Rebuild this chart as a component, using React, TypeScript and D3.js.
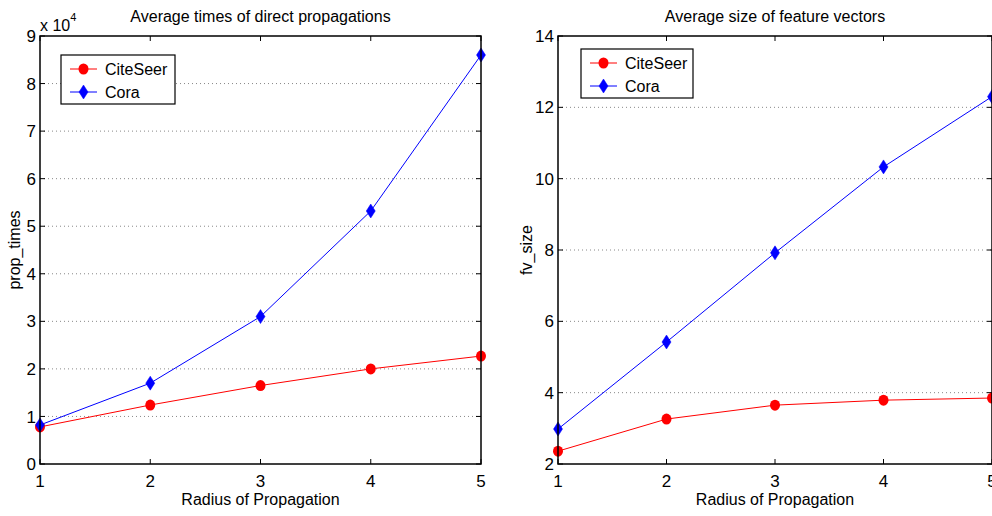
import React from "react";
import * as d3 from "d3";

const radii = [1, 2, 3, 4, 5];
const propCiteSeer = [0.78, 1.24, 1.65, 2.0, 2.27];
const propCora = [0.82, 1.7, 3.1, 5.32, 8.6];
const fvCiteSeer = [2.36, 3.26, 3.65, 3.79, 3.85];
const fvCora = [2.98, 5.42, 7.92, 10.33, 12.3];
const propTicks = [0, 1, 2, 3, 4, 5, 6, 7, 8, 9];
const fvTicks = [2, 4, 6, 8, 10, 12, 14];
const seriesNames = ["CiteSeer", "Cora"];
const seriesColors = ["#ff0000", "#0000ff"];

const FONT = "'Liberation Sans', Arial, Helvetica, sans-serif";

type PanelProps = {
  left: number;
  right: number;
  top: number;
  bottom: number;
  yDomain: [number, number];
  yTicks: number[];
  s1: number[];
  s2: number[];
  title: string;
  yLabel: string;
  yLabelX: number;
  legend: { x: number; y: number; w: number; h: number };
  exponent?: boolean;
};

function Diamond({ x, y, color }: { x: number; y: number; color: string }) {
  const w = 4.5, h = 7;
  return (
    <path
      d={`M${x},${y - h}L${x + w},${y}L${x},${y + h}L${x - w},${y}Z`}
      fill={color}
      stroke={color}
      strokeWidth={0.5}
    />
  );
}

function Panel(p: PanelProps) {
  const x = d3.scaleLinear().domain([1, 5]).range([p.left, p.right]);
  const y = d3.scaleLinear().domain(p.yDomain).range([p.bottom, p.top]);
  const line = d3
    .line<number>()
    .x((_, i) => x(radii[i]))
    .y((d) => y(d));
  const tl = 5;
  const cx = (p.left + p.right) / 2;
  return (
    <g fontFamily={FONT}>
      {p.yTicks.slice(1, -1).map((t) => (
        <line
          key={"g" + t}
          x1={p.left}
          x2={p.right}
          y1={y(t)}
          y2={y(t)}
          stroke="#888"
          strokeWidth={1}
          strokeDasharray="1,3"
        />
      ))}
      {p.yTicks.map((t) => (
        <g key={"yt" + t}>
          <line x1={p.left} x2={p.left + tl} y1={y(t)} y2={y(t)} stroke="#000" />
          <line x1={p.right} x2={p.right - tl} y1={y(t)} y2={y(t)} stroke="#000" />
          <text
            x={p.left - 4}
            y={y(t)}
            dy="0.36em"
            textAnchor="end"
            fontSize={17}
          >
            {t}
          </text>
        </g>
      ))}
      {radii.map((r) => (
        <g key={"xt" + r}>
          <line x1={x(r)} x2={x(r)} y1={p.bottom} y2={p.bottom - tl} stroke="#000" />
          <line x1={x(r)} x2={x(r)} y1={p.top} y2={p.top + tl} stroke="#000" />
          <text x={x(r)} y={p.bottom + 23} textAnchor="middle" fontSize={17}>
            {r}
          </text>
        </g>
      ))}
      <path d={line(p.s1) || ""} fill="none" stroke={seriesColors[0]} strokeWidth={1} />
      <path d={line(p.s2) || ""} fill="none" stroke={seriesColors[1]} strokeWidth={1} />
      {p.s1.map((v, i) => (
        <ellipse key={"m1" + i} cx={x(radii[i])} cy={y(v)} rx={5} ry={5.5} fill={seriesColors[0]} />
      ))}
      {p.s2.map((v, i) => (
        <Diamond key={"m2" + i} x={x(radii[i])} y={y(v)} color={seriesColors[1]} />
      ))}
      <rect
        x={p.left}
        y={p.top}
        width={p.right - p.left}
        height={p.bottom - p.top}
        fill="none"
        stroke="#000"
        strokeWidth={1.5}
      />
      <text x={cx} y={22} textAnchor="middle" fontSize={16}>
        {p.title}
      </text>
      <text x={cx} y={505} textAnchor="middle" fontSize={16}>
        Radius of Propagation
      </text>
      <text
        transform={`translate(${p.yLabelX},${(p.top + p.bottom) / 2}) rotate(-90)`}
        textAnchor="middle"
        fontSize={16}
      >
        {p.yLabel}
      </text>
      {p.exponent && (
        <text x={p.left} y={31} fontSize={16}>
          x 10
          <tspan dy={-10} fontSize={11}>
            4
          </tspan>
        </text>
      )}
      <rect
        x={p.legend.x}
        y={p.legend.y}
        width={p.legend.w}
        height={p.legend.h}
        fill="#fff"
        stroke="#000"
        strokeWidth={1.2}
      />
      {seriesNames.map((n, i) => {
        const ly = p.legend.y + 14 + i * 23;
        const lx = p.legend.x + 9;
        return (
          <g key={"lg" + n}>
            <line x1={lx} x2={lx + 27} y1={ly} y2={ly} stroke={seriesColors[i]} />
            {i === 0 ? (
              <ellipse cx={lx + 13.5} cy={ly} rx={5} ry={5.5} fill={seriesColors[0]} />
            ) : (
              <Diamond x={lx + 13.5} y={ly} color={seriesColors[1]} />
            )}
            <text x={lx + 35} y={ly} dy="0.36em" fontSize={16}>
              {n}
            </text>
          </g>
        );
      })}
    </g>
  );
}

export default function App() {
  return (
    <svg
      width={992}
      height={516}
      style={{ position: "absolute", left: 0, top: 0, background: "#fff" }}
    >
      <rect width={992} height={516} fill="#fff" />
      <Panel
        left={40}
        right={481}
        top={36}
        bottom={464}
        yDomain={[0, 9]}
        yTicks={propTicks}
        s1={propCiteSeer}
        s2={propCora}
        title="Average times of direct propagations"
        yLabel="prop_times"
        yLabelX={20}
        legend={{ x: 61, y: 55, w: 114, h: 49 }}
        exponent
      />
      <Panel
        left={558}
        right={992}
        top={36}
        bottom={464}
        yDomain={[2, 14]}
        yTicks={fvTicks}
        s1={fvCiteSeer}
        s2={fvCora}
        title="Average size of feature vectors"
        yLabel="fv_size"
        yLabelX={532}
        legend={{ x: 581, y: 49, w: 112, h: 49 }}
      />
    </svg>
  );
}
